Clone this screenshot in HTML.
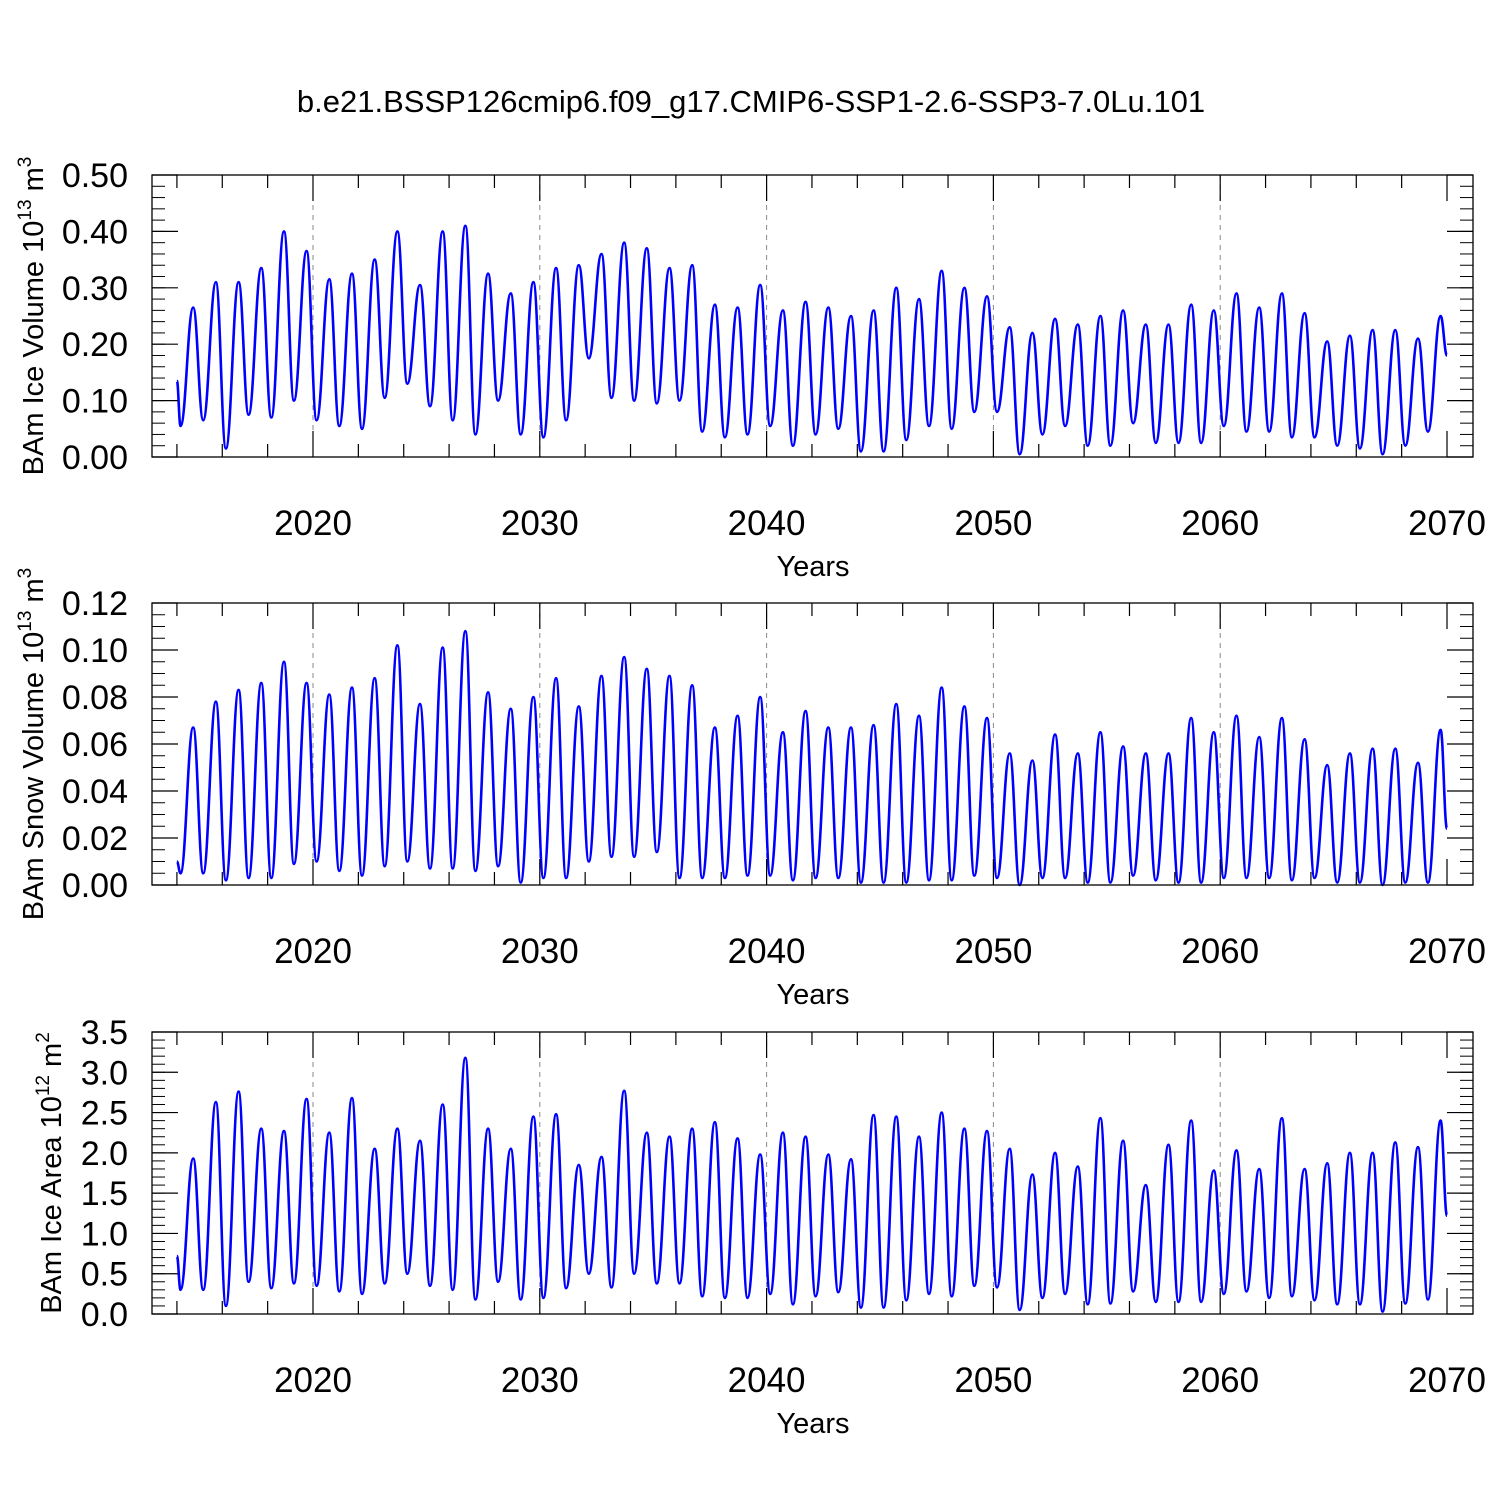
<!DOCTYPE html>
<html><head><meta charset="utf-8"><style>
html,body{margin:0;padding:0;background:#fff;}
svg{display:block;font-family:"Liberation Sans",Arial,sans-serif;}
</style></head><body>
<svg id="chart" width="1500" height="1500" viewBox="0 0 1500 1500" xmlns="http://www.w3.org/2000/svg">
<rect width="1500" height="1500" fill="#fff"/>
<text x="751" y="112" font-size="31" text-anchor="middle">b.e21.BSSP126cmip6.f09_g17.CMIP6-SSP1-2.6-SSP3-7.0Lu.101</text>
</svg>
<script>
// ---- data (per-year troughs ~Y+0.16 and peaks ~Y+0.72) ----
const years = [];
for (let y = 2014; y <= 2069; y++) years.push(y);
const xTickLabels = ["2020","2030","2040","2050","2060","2070"];

const volPeaks = [0.265,0.31,0.31,0.335,0.40,0.365,0.315,0.325,0.35,0.40,0.305,0.40,0.41,0.325,0.29,0.31,0.335,0.34,0.36,0.38,0.37,0.335,0.34,0.27,0.265,0.305,0.26,0.275,0.265,0.25,0.26,0.30,0.28,0.33,0.30,0.285,0.23,0.22,0.245,0.235,0.25,0.26,0.235,0.235,0.27,0.26,0.29,0.265,0.29,0.255,0.205,0.215,0.225,0.225,0.21,0.25];
const volTroughs = [0.055,0.065,0.015,0.075,0.07,0.10,0.065,0.055,0.05,0.105,0.13,0.09,0.065,0.04,0.10,0.04,0.035,0.065,0.175,0.105,0.10,0.095,0.10,0.045,0.035,0.04,0.055,0.02,0.04,0.05,0.01,0.01,0.03,0.055,0.05,0.08,0.08,0.005,0.04,0.055,0.02,0.02,0.06,0.025,0.025,0.025,0.055,0.045,0.045,0.035,0.035,0.02,0.015,0.005,0.02,0.045];
const volEnds = [0.135,0.18];

const snowPeaks = [0.067,0.078,0.083,0.086,0.095,0.086,0.081,0.084,0.088,0.102,0.077,0.101,0.108,0.082,0.075,0.080,0.088,0.076,0.089,0.097,0.092,0.089,0.085,0.067,0.072,0.080,0.065,0.074,0.067,0.067,0.068,0.077,0.072,0.084,0.076,0.071,0.056,0.053,0.064,0.056,0.065,0.059,0.056,0.056,0.071,0.065,0.072,0.063,0.071,0.062,0.051,0.056,0.058,0.058,0.052,0.066];
const snowTroughs = [0.005,0.005,0.002,0.003,0.003,0.009,0.010,0.006,0.004,0.008,0.010,0.007,0.007,0.006,0.008,0.001,0.003,0.003,0.010,0.012,0.012,0.014,0.003,0.003,0.003,0.004,0.004,0.002,0.003,0.003,0.001,0.001,0.001,0.002,0.002,0.004,0.003,0.000,0.003,0.003,0.001,0.001,0.004,0.002,0.001,0.001,0.003,0.003,0.003,0.002,0.003,0.001,0.001,0.000,0.001,0.001];
const snowEnds = [0.010,0.024];

const areaPeaks = [1.93,2.63,2.76,2.30,2.27,2.67,2.25,2.68,2.05,2.30,2.15,2.60,3.18,2.30,2.05,2.45,2.48,1.85,1.95,2.77,2.25,2.20,2.30,2.38,2.18,1.98,2.25,2.20,1.98,1.92,2.47,2.45,2.20,2.50,2.30,2.27,2.05,1.73,2.00,1.83,2.43,2.15,1.60,2.10,2.40,1.78,2.03,1.80,2.43,1.80,1.87,2.00,2.00,2.13,2.07,2.40];
const areaTroughs = [0.30,0.30,0.10,0.40,0.32,0.38,0.35,0.28,0.25,0.38,0.50,0.35,0.30,0.18,0.40,0.18,0.20,0.32,0.50,0.33,0.50,0.38,0.38,0.22,0.20,0.20,0.25,0.12,0.22,0.27,0.08,0.08,0.17,0.25,0.22,0.35,0.33,0.05,0.20,0.25,0.12,0.13,0.28,0.15,0.15,0.15,0.25,0.28,0.20,0.22,0.17,0.12,0.12,0.03,0.13,0.18];
const areaEnds = [0.72,1.22];

const volTicks = ["0.00","0.10","0.20","0.30","0.40","0.50"];
const snowTicks = ["0.00","0.02","0.04","0.06","0.08","0.10","0.12"];
const areaTicks = ["0.0","0.5","1.0","1.5","2.0","2.5","3.0","3.5"];

// ---- drawing ----
const NS = "http://www.w3.org/2000/svg";
const svg = document.getElementById("chart");
function mk(tag, attrs, parent) {
  const e = document.createElementNS(NS, tag);
  for (const k in attrs) e.setAttribute(k, attrs[k]);
  (parent || svg).appendChild(e);
  return e;
}
const L = 152, R = 1473;
const xS = t => 313 + (t - 2020) * (1447 - 313) / 50;

function panel(idx, top, bottom, ymax, ticks, minorStep, peaks, troughs, ends, titleParts, titleX) {
  const g = mk("g", {});
  
  
  const yS = v => bottom - v / ymax * (bottom - top);
  xTickLabels.forEach(lbl => {
    const yr = +lbl;
    if (yr < 2070) {
      const gl = mk("line", {x1: xS(yr), x2: xS(yr), y1: top, y2: bottom, stroke: "#888", "stroke-width": 1, "stroke-dasharray": "5,5"}, g);
      
      
    }
  });
  const pts = [[2014.0, ends[0]]];
  years.forEach((y, i) => { pts.push([y + 0.16, troughs[i]]); pts.push([y + 0.72, peaks[i]]); });
  pts.push([2070.0, ends[1]]);
  const P = pts.map(p => [xS(p[0]), yS(p[1])]);
  let d = "M" + P[0][0].toFixed(1) + "," + P[0][1].toFixed(1);
  for (let i = 1; i < P.length; i++) {
    const a = P[i - 1], b = P[i], dx = (b[0] - a[0]) * 0.42;
    d += "C" + (a[0] + dx).toFixed(1) + "," + a[1].toFixed(1) + " " + (b[0] - dx).toFixed(1) + "," + b[1].toFixed(1) + " " + b[0].toFixed(1) + "," + b[1].toFixed(1);
  }
  const line = mk("path", {d: d, fill: "none", stroke: "#0000ff", "stroke-width": 2.6, "stroke-linejoin": "round"}, g);
  
  
  const fr = mk("rect", {x: L, y: top, width: R - L, height: bottom - top, fill: "none", stroke: "#000", "stroke-width": 1.3}, g);
  
  
  const step = ymax / (ticks.length - 1);
  ticks.forEach((lbl, i) => {
    const v = i * step, y = yS(v);
    mk("line", {x1: L, x2: L + 26, y1: y, y2: y, stroke: "#000", "stroke-width": 1.2}, g);
    mk("line", {x1: R, x2: R - 26, y1: y, y2: y, stroke: "#000", "stroke-width": 1.2}, g);
    const t = mk("text", {x: L - 24, y: y + 12, "font-size": 34, "text-anchor": "end"}, g);
    t.textContent = lbl;
    
    
  });
  for (let v = 0; v <= ymax + 1e-9; v += minorStep) {
    const y = yS(v);
    mk("line", {x1: L, x2: L + 13, y1: y, y2: y, stroke: "#000", "stroke-width": 1}, g);
    mk("line", {x1: R, x2: R - 13, y1: y, y2: y, stroke: "#000", "stroke-width": 1}, g);
  }
  for (let yr = 2014; yr <= 2070; yr += 2) {
    const x = xS(yr), major = yr % 10 === 0, len = major ? 26 : 13;
    mk("line", {x1: x, x2: x, y1: top, y2: top + len, stroke: "#000", "stroke-width": 1.2}, g);
    mk("line", {x1: x, x2: x, y1: bottom, y2: bottom - len, stroke: "#000", "stroke-width": 1.2}, g);
  }
  xTickLabels.forEach(lbl => {
    const t = mk("text", {x: xS(+lbl), y: bottom + 78, "font-size": 35, "text-anchor": "middle"}, g);
    t.textContent = lbl;
    
    
  });
  const xt = mk("text", {x: 813, y: bottom + 119, "font-size": 29, "text-anchor": "middle"}, g);
  xt.textContent = "Years";
  
  
  const cy = (top + bottom) / 2;
  const yt = mk("text", {x: 0, y: 0, "font-size": 29, "text-anchor": "middle", transform: "translate(" + titleX + "," + cy + ") rotate(-90)"}, g);
  
  
  titleParts.forEach(p => {
    const ts = mk("tspan", p[1] ? {"font-size": 19, dy: -12} : {dy: p[2] ? 12 : 0}, yt);
    ts.textContent = p[0];
  });
}

panel(1, 175, 457, 0.5, volTicks, 0.02, volPeaks, volTroughs, volEnds,
  [["BAm Ice Volume 10"], ["13", true], [" m", false, true], ["3", true]], 43);
panel(2, 603, 885, 0.12, snowTicks, 0.005, snowPeaks, snowTroughs, snowEnds,
  [["BAm Snow Volume 10"], ["13", true], [" m", false, true], ["3", true]], 43);
panel(3, 1032, 1314, 3.5, areaTicks, 0.1, areaPeaks, areaTroughs, areaEnds,
  [["BAm Ice Area 10"], ["12", true], [" m", false, true], ["2", true]], 61);
</script>
</body></html>
